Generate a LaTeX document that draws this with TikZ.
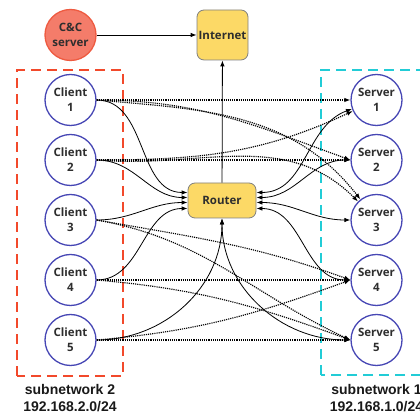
\documentclass[tikz,border=0pt]{standalone}
\usepackage{fontspec}
\setmainfont{Open Sans}
\newfontfamily\netfont{Liberation Sans}
\usepackage{tikz}
\usetikzlibrary{arrows,arrows.meta,positioning,shapes.misc}

\definecolor{ccfill}{HTML}{F47C6A}
\definecolor{ccline}{HTML}{EE5A40}
\definecolor{hostblue}{HTML}{4646B4}
\definecolor{hubyellow}{HTML}{FCD966}
\definecolor{hubgray}{HTML}{808080}
\definecolor{netred}{HTML}{F2492B}
\definecolor{netcyan}{HTML}{22CCD6}
\definecolor{labelgray}{HTML}{2E2E2E}

\begin{document}
\begin{tikzpicture}[
x=1pt, y=1pt, >={Latex[length=6pt,width=4.5pt]},
host/.style={circle, draw=hostblue, line width=1.3pt, fill=white, minimum size=51pt, inner sep=0pt,
  align=center, text=labelgray, font=\bfseries\fontsize{11.5}{15}\selectfont},
cchost/.style={host, draw=ccline, fill=ccfill},
hub/.style={rounded corners=7pt, draw=hubgray, line width=0.8pt, fill=hubyellow, inner sep=0pt,
  align=center, text=labelgray, font=\bfseries\fontsize{11.5}{15}\selectfont},
link/.style={->, line width=0.8pt},
flow/.style={->, densely dotted, line width=1.15pt},
subnet/.style={line width=2.8pt, dash pattern=on 10pt off 6pt},
netlabel/.style={align=center, text=black!90, font=\netfont\bfseries\fontsize{14}{17}\selectfont},
node distance=7.7pt]
\useasboundingbox (0,0) rectangle (420,414);
\clip (0,0) rectangle (420,414);

% subnetworks
\draw[subnet, netred] (17,38) rectangle (123,344);
\draw[subnet, netcyan] (321,39) rectangle (450,344);

\node[cchost] (cc) at (70.5,379) {C\&C\\server};
\node[hub, minimum width=51pt, minimum height=50pt] (internet) at (222.5,379) {Internet};
\node[hub, minimum width=68pt, minimum height=35pt] (router) at (222,213.5) {Router};

\node[host] (c1) at (70.5,314) {Client\\1};
\node[host, below=of c1] (c2) {Client\\2};
\node[host, below=of c2] (c3) {Client\\3};
\node[host, below=of c3] (c4) {Client\\4};
\node[host, below=of c4] (c5) {Client\\5};

\node[host, right=253.7pt of c1] (s1) {Server\\1};
\node[host, right=253.7pt of c2] (s2) {Server\\2};
\node[host, right=253.7pt of c3] (s3) {Server\\3};
\node[host, right=253.7pt of c4] (s4) {Server\\4};
\node[host, right=253.7pt of c5] (s5) {Server\\5};

\node[netlabel] (net2) at (70,15.5) {subnetwork 2\\192.168.2.0/24};
\node[netlabel] (net1) at (376.5,15.5) {subnetwork 1\\192.168.1.0/24};

% traffic between clients and servers
\draw[flow] (c1.east) -- (s1.west);
\draw[flow] (c1.east) to[out=0,in=160] (s2.west);
\draw[flow] (c1.east) to[out=-5,in=128] (s3);
\draw[flow] (c2.east) to[out=0,in=205] (s1);
\draw[flow] (c2.east) -- (s2.west);
\draw[flow] (c2.east) to[out=-5,in=135] (s3);
\draw[flow] (c3.east) to[out=-10,in=160] (s4.west);
\draw[flow] (c3.east) to[out=-10,in=155] (s5.west);
\draw[flow] (c4.east) -- (s4.west);
\draw[flow] (c4.east) to[out=-5,in=160] (s5.west);
\draw[flow] (c5.east) to[out=5,in=200] (s4.west);
\draw[flow] (c5.east) -- (s5.west);

% physical links
\draw[link] (cc) -- (internet);
\draw[link] (router) -- (internet);
\draw[link] (c1.east) to[out=0,in=180] ([yshift=8pt]router.west);
\draw[link] (c2.east) to[out=0,in=180] ([yshift=3pt]router.west);
\draw[link] (c3.east) to[out=0,in=180] ([yshift=-2pt]router.west);
\draw[link] (c4.east) to[out=0,in=180] ([yshift=-8pt]router.west);
\draw[link] (c5.east) to[out=0,in=-90] (router.south);
\draw[link,<->] ([yshift=8pt]router.east) to[out=0,in=200] (s1);
\draw[link,<->] ([yshift=3pt]router.east) to[out=0,in=180] (s2.west);
\draw[link,<->] ([yshift=-2pt]router.east) to[out=0,in=180] (s3.west);
\draw[link,<->] ([yshift=-8pt]router.east) to[out=0,in=180] (s4.west);
\draw[link,<->] (router.south) to[out=-90,in=180] (s5.west);
\end{tikzpicture}
\end{document}
